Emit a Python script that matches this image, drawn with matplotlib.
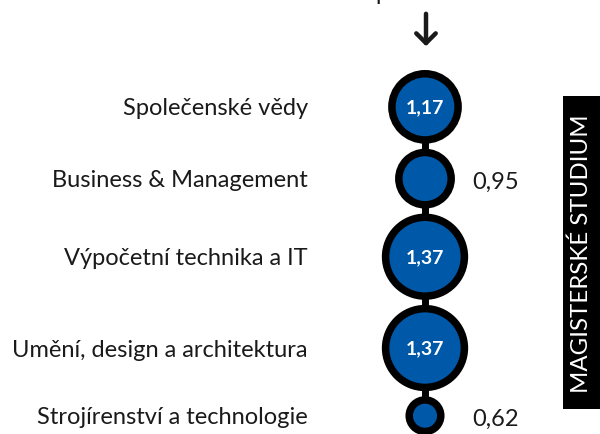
import numpy as np
from matplotlib import pyplot as plt
from matplotlib.patches import Circle, Rectangle

plt.rcParams['font.family'] = ['Lato', 'DejaVu Sans']

# Data

obory = ['Společenské vědy', 'Business & Management', 'Výpočetní technika a IT',
         'Umění, design a architektura', 'Strojírenství a technologie']
hodnoty = [1.17, 0.95, 1.37, 1.37, 0.62]
popisky = ['1,17', '0,95', '1,37', '1,37', '0,62']
nadpis = 'průměrné hodnocení'
boxik = 'MAGISTERSKÉ STUDIUM'

# Layout (pixels)

W, H = 600, 435
cx = 425
px_per_value = 63.0
gap = 5.0
border = 7.5
modra = '#0058a8'

diam = np.array(hodnoty) * px_per_value
tops = 71 + np.concatenate([[0], np.cumsum(diam[:-1] + gap)])
centers = tops + diam / 2

fig = plt.figure(figsize=(W / 100, H / 100), dpi=100)
ax = fig.add_axes([0, 0, 1, 1])
ax.set_xlim(0, W)
ax.set_ylim(H, 0)
ax.axis('off')

# connecting line
ax.plot([cx, cx], [centers[0], centers[-1]], color='black', lw=5, zorder=1)

for name, val, lab, d, cy in zip(obory, hodnoty, popisky, diam, centers):
	ax.add_patch(Circle((cx, cy), d / 2 - border / 2, facecolor=modra,
	                    edgecolor='black', lw=border * 0.72, zorder=2))
	ax.text(308, cy + 1, name, ha='right', va='center', fontsize=17, color='#1a1a1a')
	if val >= 1:
		ax.text(cx, cy, lab, ha='center', va='center', fontsize=14,
		        color='white', fontweight='bold', zorder=3)
	else:
		ax.text(472, cy + 3, lab, ha='left', va='center', fontsize=17,
		        color='#1a1a1a')

# arrow
ax.annotate('', xy=(cx + 1, 50), xytext=(cx + 1, 12),
            arrowprops=dict(arrowstyle='->, head_length=0.7, head_width=0.7',
                            color='#1a1a1a', lw=3.2))

# heading, cut off by the top edge as in the original
ax.text(376, -0.5, nadpis, ha='left', va='baseline', fontsize=17, color='#1a1a1a')

# side box
ax.add_patch(Rectangle((563, 97), 40, 313, facecolor='black', edgecolor='none'))
ax.text(581.5, 253.5, boxik, rotation=90, ha='center', va='center',
        fontsize=17.3, color='white')

fig.savefig('out.png', dpi=100)
